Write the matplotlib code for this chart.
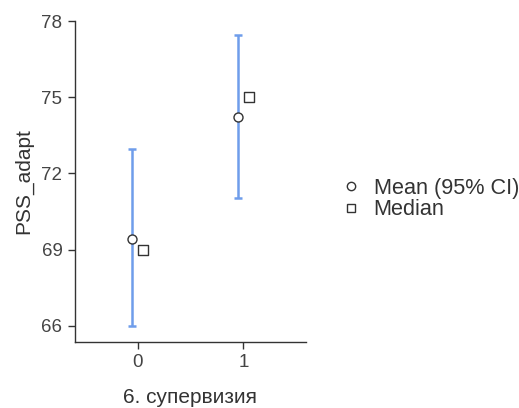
import matplotlib
matplotlib.use("Agg")
import matplotlib.pyplot as plt
from matplotlib.lines import Line2D

plt.rcParams['font.family'] = ['Liberation Sans', 'DejaVu Sans']

groups = ["0", "1"]
means = [69.42, 74.24]
ci_low = [66.0, 71.04]
ci_high = [72.96, 77.46]
medians = [69.0, 75.0]
yticks = [66, 69, 72, 75, 78]

fig = plt.figure(figsize=(5.19, 4.08), dpi=100)
ax = fig.add_axes([0.1445, 0.1625, 0.4451, 0.786])

xs = list(range(len(groups)))
dodge = 0.05
xm = [x - dodge for x in xs]
xd = [x + dodge for x in xs]

err = [[m - l for m, l in zip(means, ci_low)], [h - m for m, h in zip(means, ci_high)]]
ax.errorbar(xm, means, yerr=err, fmt='none', ecolor='#6F9DEB', elinewidth=1.8,
            capsize=3, capthick=1.8, zorder=2)
ax.scatter(xm, means, s=42, marker='o', facecolor='white', edgecolor='#333333',
           linewidths=1.0, zorder=3)
ax.scatter(xd, medians, s=42, marker='s', facecolor='white', edgecolor='#333333',
           linewidths=1.0, zorder=3)

ax.set_xlim(-0.59, 1.59)
ax.set_ylim(65.38, 78)
ax.set_xticks(xs)
ax.set_xticklabels(groups)
ax.set_yticks(yticks)

for s in ['top', 'right']:
    ax.spines[s].set_visible(False)
for s in ['left', 'bottom']:
    ax.spines[s].set_color('#333333')
    ax.spines[s].set_linewidth(1.0)
ax.tick_params(axis='both', colors='#333333', labelsize=13.5, length=5, width=1.0,
               labelcolor='#444444', pad=4)

ax.set_xlabel("6. супервизия", fontsize=15, color='#333333', labelpad=12)
ax.set_ylabel("PSS_adapt", fontsize=15, color='#333333', labelpad=6)

handles = [
    Line2D([], [], marker='o', linestyle='none', markerfacecolor='white',
           markeredgecolor='#333333', markersize=6, markeredgewidth=1.0),
    Line2D([], [], marker='s', linestyle='none', markerfacecolor='white',
           markeredgecolor='#333333', markersize=6, markeredgewidth=1.0),
]
fig.legend(handles, ["Mean (95% CI)", "Median"], loc='center left',
           bbox_to_anchor=(0.622, 0.512), frameon=False, fontsize=15.6,
           handletextpad=0.65, labelspacing=0.02, handlelength=0.8,
           labelcolor='#333333')

fig.savefig("out.png", dpi=100)
